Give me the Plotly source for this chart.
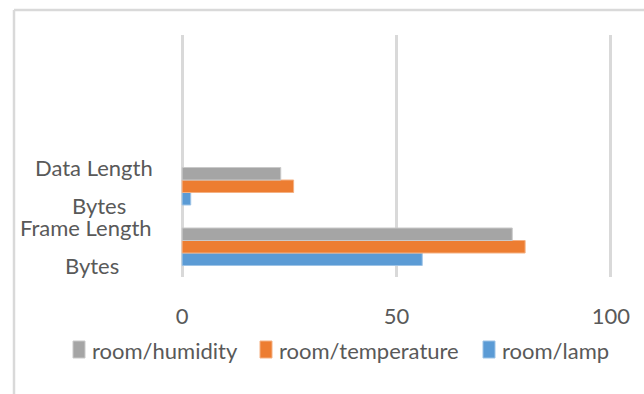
import plotly.graph_objects as go

categories = ["Frame Length Bytes", "Data Length Bytes"]
cat_pos = [0, 1]
lamp = [56, 2]
temperature = [80, 26]
humidity = [77, 23]
x_ticks = [0, 50, 100]

FONT = "Lato, sans-serif"
FS = 22
TXT = "#595959"

series = [
    ("room/lamp", lamp, "#5B9BD5", "#9DC3E6"),
    ("room/temperature", temperature, "#ED7D31", "#F4B183"),
    ("room/humidity", humidity, "#A5A5A5", "#C9C9C9"),
]

fig = go.Figure()
for name, vals, col, edge in series:
    fig.add_trace(go.Bar(
        y=cat_pos, x=vals, name=name, orientation="h",
        marker=dict(color=col, line=dict(color=edge, width=1)),
        showlegend=False,
    ))

W, H = 644, 394
L, R, T, B = 180, 31, 35, 117
pw, ph = W - L - R, H - T - B

def px(x):
    return (x - L) / pw

def py(y):
    return (H - B - y) / ph

fig.update_layout(
    width=W, height=H,
    margin=dict(l=L, r=R, t=T, b=B, pad=0),
    paper_bgcolor="white", plot_bgcolor="white",
    barmode="group", bargap=0.38, bargroupgap=0,
    font=dict(family=FONT, color=TXT, size=FS),
    xaxis=dict(
        range=[-0.5, 100.5], tickvals=x_ticks, ticktext=[str(v) for v in x_ticks],
        showgrid=True, gridcolor="#D9D9D9", gridwidth=2.5, zeroline=False,
        showline=False, ticks="", ticklabelstandoff=24,
        tickfont=dict(size=FS, color=TXT, family=FONT),
    ),
    yaxis=dict(
        range=[-0.5, 3.5], showticklabels=False, showgrid=False,
        zeroline=False, showline=False, ticks="",
    ),
    showlegend=False,
)

# category labels (two-line, centred lines)
labels = [
    ("Frame Length", "Bytes", 0, 154, 92),
    ("Data Length", "Bytes", 1, 155, 99),
]
for top, bot, yv, xr, xc in labels:
    fig.add_annotation(text=top, xref="paper", yref="y", x=px(xr), y=yv,
                       xanchor="right", yanchor="middle", yshift=19,
                       showarrow=False, font=dict(size=FS, color=TXT, family=FONT))
    fig.add_annotation(text=bot, xref="paper", yref="y", x=px(xc), y=yv,
                       xanchor="center", yanchor="middle", yshift=-19,
                       showarrow=False, font=dict(size=FS, color=TXT, family=FONT))

# legend (Excel style: swatch + label), drawn in reversed series order
legend_x = {"room/humidity": 73, "room/temperature": 260, "room/lamp": 483}
for name, vals, col, edge in reversed(series):
    x0 = legend_x[name]
    fig.add_shape(type="rect", xref="paper", yref="paper",
                  x0=px(x0), x1=px(x0 + 12), y0=py(358), y1=py(341),
                  fillcolor=col, line=dict(color=edge, width=1))
    fig.add_annotation(text=name, xref="paper", yref="paper",
                       x=px(x0 + 17), y=py(350), xanchor="left", yanchor="middle",
                       showarrow=False, font=dict(size=FS, color=TXT, family=FONT))

# outer chart border (left and top)
fig.add_shape(type="line", xref="paper", yref="paper",
              x0=px(14), x1=px(14), y0=py(10), y1=py(400),
              line=dict(color="#D9D9D9", width=2.5))
fig.add_shape(type="line", xref="paper", yref="paper",
              x0=px(14), x1=px(650), y0=py(10), y1=py(10),
              line=dict(color="#D9D9D9", width=2.5))

fig.write_html("out.html", config={"displayModeBar": False},
               post_script="document.body.style.margin='0px';document.body.style.overflow='hidden';")
